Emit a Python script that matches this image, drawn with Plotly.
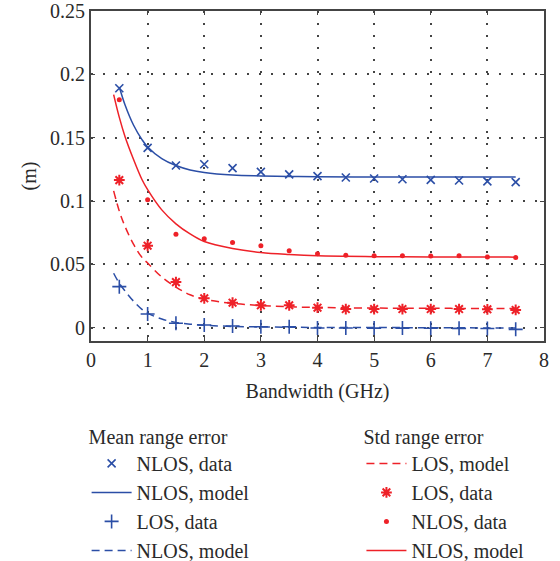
import plotly.graph_objects as go

# ---- data ----
bw_data = [0.5, 1.0, 1.5, 2.0, 2.5, 3.0, 3.5, 4.0, 4.5, 5.0, 5.5, 6.0, 6.5, 7.0, 7.5]

mean_nlos_data = [0.189, 0.142, 0.128, 0.129, 0.126, 0.123, 0.121, 0.1196, 0.1186,
                  0.1178, 0.1172, 0.1167, 0.1162, 0.1155, 0.1149]
mean_los_data = [0.0324, 0.0108, 0.0035, 0.0021, 0.0013, 0.0008, 0.0008, -0.0002,
                 -0.0002, -0.0003, -0.0003, -0.0004, -0.0005, -0.0006, -0.0013]
std_los_data = [0.1165, 0.0647, 0.036, 0.0232, 0.0197, 0.0177, 0.0177, 0.0158,
                0.0147, 0.0147, 0.0147, 0.0147, 0.0147, 0.0145, 0.014]
std_nlos_data = [0.180, 0.101, 0.0737, 0.0702, 0.0673, 0.0647, 0.0607, 0.0584,
                 0.0571, 0.0568, 0.0568, 0.0566, 0.0568, 0.0558, 0.0555]

bw_mean_nlos_model = [0.5, 0.6, 0.75, 0.9, 1.0, 1.25, 1.5, 1.75, 2.0, 2.5, 3.0, 3.5, 4.0, 5.0, 6.0, 7.0, 7.5]
mean_nlos_model = [0.190, 0.176, 0.160, 0.1485, 0.1427, 0.1335, 0.128, 0.1245, 0.1225,
                   0.1205, 0.1198, 0.1194, 0.1192, 0.119, 0.119, 0.119, 0.119]

bw_model = [0.4, 0.5, 0.6, 0.75, 0.9, 1.0, 1.25, 1.5, 1.75, 2.0, 2.5, 3.0, 3.5, 4.0, 5.0, 6.0, 7.0, 7.5]
mean_los_model = [0.043, 0.035, 0.029, 0.021, 0.0145, 0.0115, 0.0068, 0.0042, 0.0028,
                  0.0019, 0.001, 0.0006, 0.0004, 0.0002, 0.0001, 0.0, -0.0002, -0.0003]
std_los_model = [0.108, 0.092, 0.080, 0.066, 0.0555, 0.051, 0.040, 0.032, 0.026, 0.0225,
                 0.0192, 0.0175, 0.0165, 0.016, 0.0155, 0.0153, 0.0152, 0.0152]
std_nlos_model = [0.184, 0.166, 0.151, 0.133, 0.117, 0.109, 0.093, 0.082, 0.074, 0.068,
                  0.0625, 0.0593, 0.0577, 0.0567, 0.0561, 0.0559, 0.0558, 0.0557]

x_ticks = [0, 1, 2, 3, 4, 5, 6, 7, 8]
y_ticks = [0, 0.05, 0.1, 0.15, 0.2, 0.25]
y_tick_text = ["0", "0.05", "0.1", "0.15", "0.2", "0.25"]

BLUE = "#2b4ea6"
RED = "#ee2128"
FONT = "Liberation Serif"
TXT = "#2a2a2a"
FS = 20

fig = go.Figure()

# legend 1: Mean range error
fig.add_trace(go.Scatter(x=bw_data, y=mean_nlos_data, mode="markers", name="NLOS, data",
                         marker=dict(symbol="x-thin", size=8, color=BLUE, line=dict(color=BLUE, width=1.6)),
                         legend="legend"))
fig.add_trace(go.Scatter(x=bw_mean_nlos_model, y=mean_nlos_model, mode="lines", name="NLOS, model",
                         line=dict(color=BLUE, width=1.5, shape="spline"), legend="legend"))
fig.add_trace(go.Scatter(x=bw_data, y=mean_los_data, mode="markers", name="LOS, data",
                         marker=dict(symbol="cross-thin", size=10, color=BLUE, line=dict(color=BLUE, width=1.6)),
                         legend="legend"))
fig.add_trace(go.Scatter(x=bw_model, y=mean_los_model, mode="lines", name="NLOS, model",
                         line=dict(color=BLUE, width=1.5, dash="8px,5px", shape="spline"),
                         legend="legend"))

# legend 2: Std range error
fig.add_trace(go.Scatter(x=bw_model, y=std_los_model, mode="lines", name="LOS, model",
                         line=dict(color=RED, width=1.5, dash="8px,5px", shape="spline"),
                         legend="legend2"))
fig.add_trace(go.Scatter(x=bw_data, y=std_los_data, mode="markers", name="LOS, data",
                         marker=dict(symbol="asterisk-open", size=9, color=RED, line=dict(color=RED, width=2)),
                         legend="legend2"))
fig.add_trace(go.Scatter(x=bw_data, y=std_nlos_data, mode="markers", name="NLOS, data",
                         marker=dict(symbol="circle", size=5, color=RED),
                         legend="legend2"))
fig.add_trace(go.Scatter(x=bw_model, y=std_nlos_model, mode="lines", name="NLOS, model",
                         line=dict(color=RED, width=1.5, shape="spline"), legend="legend2"))

axis_common = dict(
    showline=True, linecolor="#444444", linewidth=2, mirror="ticks",
    ticks="inside", ticklen=4, tickcolor="#444444", tickwidth=1,
    showgrid=True, gridcolor="#444444", gridwidth=1.6, griddash="2px,10px",
    zeroline=False, automargin=False, ticklabeloverflow="allow",
    tickfont=dict(family=FONT, size=FS, color=TXT),
)

fig.update_layout(
    width=560, height=561,
    paper_bgcolor="white", plot_bgcolor="white",
    margin=dict(l=91, r=16, t=11, b=220, autoexpand=False),
    font=dict(family=FONT, size=FS, color=TXT),
    xaxis=dict(range=[0, 8], tickvals=x_ticks, **axis_common,
               title=dict(text="Bandwidth (GHz)", font=dict(family=FONT, size=FS, color=TXT), standoff=14)),
    yaxis=dict(range=[-0.0105, 0.25], tickvals=y_ticks, ticktext=y_tick_text, **axis_common,
               title=dict(text="(m)", font=dict(family=FONT, size=FS, color=TXT), standoff=8)),
    legend=dict(title=dict(text="Mean range error", font=dict(family=FONT, size=FS, color=TXT)),
                x=-0.0097, xanchor="left", y=-0.233, yanchor="top", yref="paper",
                bgcolor="rgba(0,0,0,0)", font=dict(family=FONT, size=FS, color=TXT),
                traceorder="normal", tracegroupgap=0, itemwidth=40),
    legend2=dict(title=dict(text="Std range error", font=dict(family=FONT, size=FS, color=TXT)),
                 x=0.597, xanchor="left", y=-0.233, yanchor="top", yref="paper",
                 bgcolor="rgba(0,0,0,0)", font=dict(family=FONT, size=FS, color=TXT),
                 traceorder="normal", tracegroupgap=0, itemwidth=40),
    showlegend=True,
)

fig.write_html("out.html", config={"displayModeBar": False},
               post_script="document.body.style.margin='0';document.body.style.overflow='hidden';")
